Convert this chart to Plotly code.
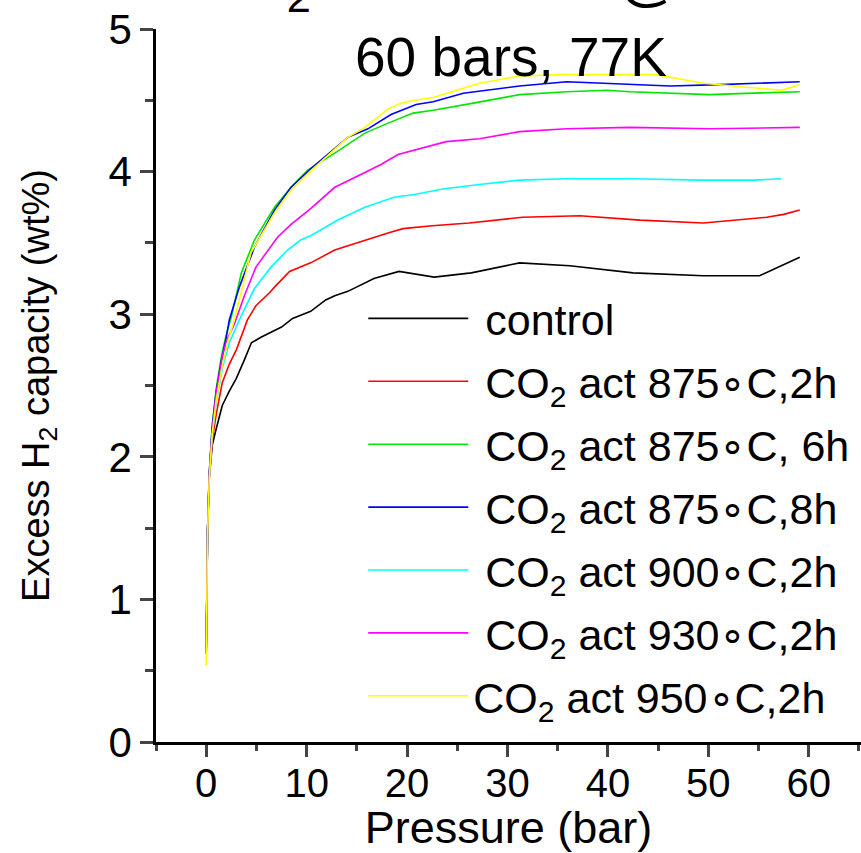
import plotly.graph_objects as go

# ---- data (Pressure in bar, excess H2 capacity in wt%) ----
names = [
    "\u00a0control",
    "\u00a0CO<sub>2</sub> act 875\u2218C,2h",
    "\u00a0CO<sub>2</sub> act 875\u2218C, 6h",
    "\u00a0CO<sub>2</sub> act 875\u2218C,8h",
    "\u00a0CO<sub>2</sub> act 900\u2218C,2h",
    "\u00a0CO<sub>2</sub> act 930\u2218C,2h",
    "CO<sub>2</sub> act 950\u2218C,2h",
]
colors = ["#000000", "#ff0000", "#00e600", "#0000ff", "#00ffff", "#ff00ff", "#ffff00"]

p_control = [0, 0.05, 0.13, 0.3, 0.6, 0.97, 1.6, 2.3, 3.0, 3.8, 4.5, 5.5, 6.6, 7.5, 8.6, 10.4,
             11.9, 12.8, 14.1, 16.7, 19.2, 22.7, 26.4, 31.2, 36.2, 42.5, 49.5, 55.1, 59.1]
v_control = [0.62, 1.0, 1.47, 1.85, 2.08, 2.19, 2.36, 2.46, 2.55, 2.68, 2.80, 2.84, 2.88, 2.91, 2.97, 3.02,
             3.10, 3.13, 3.16, 3.25, 3.30, 3.26, 3.29, 3.36, 3.34, 3.29, 3.27, 3.27, 3.40]

p_875_2h = [0, 0.05, 0.13, 0.3, 0.6, 1.0, 1.6, 2.3, 3.0, 4.1, 4.95, 6.3, 6.8, 8.3, 10.4, 12.8,
            15.8, 18.1, 19.6, 22.5, 26.2, 31.5, 37.2, 43.2, 49.5, 55.8, 57.5, 59.1]
v_875_2h = [0.62, 1.0, 1.47, 1.85, 2.12, 2.30, 2.52, 2.65, 2.75, 2.96, 3.06, 3.15, 3.19, 3.30, 3.36, 3.45,
            3.52, 3.57, 3.60, 3.62, 3.64, 3.68, 3.69, 3.66, 3.64, 3.68, 3.70, 3.73]

p_875_6h = [0, 0.05, 0.13, 0.3, 0.6, 1.0, 1.5, 2.0, 2.5, 3.5, 4.8, 6.8, 8.45, 10.1, 12.8, 15.8,
            18.1, 20.6, 22.6, 26.6, 31.2, 35.9, 39.9, 42.2, 50.1, 54.5, 59.1]
v_875_6h = [0.62, 1.0, 1.47, 1.88, 2.22, 2.48, 2.70, 2.86, 2.98, 3.29, 3.52, 3.75, 3.89, 4.01, 4.13, 4.27,
            4.34, 4.41, 4.43, 4.48, 4.54, 4.56, 4.57, 4.56, 4.54, 4.55, 4.56]

p_875_8h = [0, 0.05, 0.13, 0.3, 0.6, 1.0, 1.5, 2.0, 2.3, 3.3, 4.8, 6.8, 8.45, 10.4, 14.1, 16.1,
            18.4, 20.9, 22.6, 25.6, 31.2, 35.9, 42.2, 46.2, 51.1, 56.1, 59.1]
v_875_8h = [0.62, 1.0, 1.47, 1.88, 2.21, 2.46, 2.67, 2.84, 2.96, 3.19, 3.47, 3.73, 3.89, 4.02, 4.24, 4.30,
            4.40, 4.47, 4.49, 4.55, 4.60, 4.63, 4.61, 4.60, 4.61, 4.62, 4.63]

p_900_2h = [0, 0.05, 0.13, 0.3, 0.6, 1.0, 1.6, 2.3, 3.3, 4.8, 6.45, 8.1, 9.4, 10.4, 13.1, 15.8,
            18.7, 20.7, 23.7, 27.2, 31.2, 35.9, 42.2, 49.2, 54.5, 57.3]
v_900_2h = [0.62, 1.0, 1.47, 1.86, 2.15, 2.38, 2.62, 2.80, 2.96, 3.18, 3.33, 3.45, 3.52, 3.55, 3.66, 3.75,
            3.82, 3.84, 3.88, 3.91, 3.94, 3.95, 3.95, 3.94, 3.94, 3.95]

p_930_2h = [0, 0.05, 0.13, 0.3, 0.6, 1.0, 1.6, 2.0, 2.8, 3.8, 4.95, 7.1, 8.45, 10.4, 12.8, 15.4,
            17.4, 19.1, 20.7, 23.9, 27.2, 31.2, 35.9, 42.2, 50.1, 59.1]
v_930_2h = [0.62, 1.0, 1.47, 1.87, 2.18, 2.45, 2.70, 2.81, 2.93, 3.13, 3.33, 3.54, 3.63, 3.74, 3.89, 3.98,
            4.05, 4.12, 4.15, 4.21, 4.23, 4.28, 4.30, 4.31, 4.30, 4.31]

p_950_2h = [0, 0.05, 0.13, 0.3, 0.6, 1.0, 1.6, 2.2, 2.8, 4.45, 6.8, 8.45, 10.8, 14.1, 15.8, 18.1,
            19.4, 20.7, 22.6, 27.2, 31.2, 35.2, 41.2, 44.8, 49.5, 56.1, 57.3, 59.1]
v_950_2h = [0.54, 1.0, 1.45, 1.84, 2.16, 2.40, 2.64, 2.82, 2.96, 3.43, 3.71, 3.87, 4.03, 4.24, 4.31, 4.44,
            4.48, 4.50, 4.52, 4.62, 4.67, 4.68, 4.68, 4.68, 4.62, 4.58, 4.57, 4.61]

pressures = [p_control, p_875_2h, p_875_6h, p_875_8h, p_900_2h, p_930_2h, p_950_2h]
values = [v_control, v_875_2h, v_875_6h, v_875_8h, v_900_2h, v_930_2h, v_950_2h]

title_line1 = "H<sub>2</sub> Isotherms @"
title_line2 = "60 bars, 77K"
x_title = "Pressure (bar)"
y_title = "Excess H<sub>2</sub> capacity (wt%)"

FONT = "Liberation Sans, Arial, sans-serif"

fig = go.Figure()
for i, (nm, c, px, vy) in enumerate(zip(names, colors, pressures, values)):
    fig.add_trace(go.Scatter(x=px, y=vy, mode="lines", name=nm,
                             line=dict(color=c, width=1.6), legendgroup=str(i)))

fig.update_layout(
    width=861, height=853,
    margin=dict(l=156, r=0, t=29, b=111),
    paper_bgcolor="white", plot_bgcolor="white",
    font=dict(family=FONT, color="black"),
    showlegend=True,
    legend=dict(x=0.294, y=0.6424, xanchor="left", yanchor="top",
                bgcolor="rgba(0,0,0,0)", borderwidth=0,
                font=dict(size=43, family=FONT, color="black"),
                itemwidth=100, tracegroupgap=4, traceorder="grouped"),
    annotations=[
        dict(text=title_line2, x=0.5035, y=0.9607, xref="paper", yref="paper",
             xanchor="center", yanchor="middle", showarrow=False,
             font=dict(size=55, family=FONT, color="black")),
        dict(text=title_line1, x=(240 - 156) / 705, y=1.0088, xref="paper", yref="paper",
             xanchor="left", yanchor="bottom", showarrow=False,
             font=dict(size=62, family=FONT, color="black")),
    ],
)
fig.update_xaxes(
    range=[-5, 65.2], tick0=0, dtick=10, ticks="outside", ticklen=12, tickwidth=2.5,
    showline=True, linewidth=2.5, linecolor="black", showgrid=False, zeroline=False,
    tickfont=dict(size=40, family=FONT), mirror=False, ticklabelstandoff=-8,
    minor=dict(dtick=5, tick0=0, ticks="outside", ticklen=6, tickwidth=2.5, showgrid=False),
    title=dict(text=x_title, font=dict(size=45, family=FONT), standoff=2),
)
fig.update_yaxes(
    range=[0, 5], tick0=0, dtick=1, ticks="outside", ticklen=13, tickwidth=2.5,
    showline=True, linewidth=2.5, linecolor="black", showgrid=False, zeroline=False,
    tickfont=dict(size=42, family=FONT),
    minor=dict(dtick=0.5, tick0=0, ticks="outside", ticklen=8, tickwidth=2.5, showgrid=False),
    title=dict(text=y_title, font=dict(size=38, family=FONT), standoff=48),
)
fig.write_html("out.html")
